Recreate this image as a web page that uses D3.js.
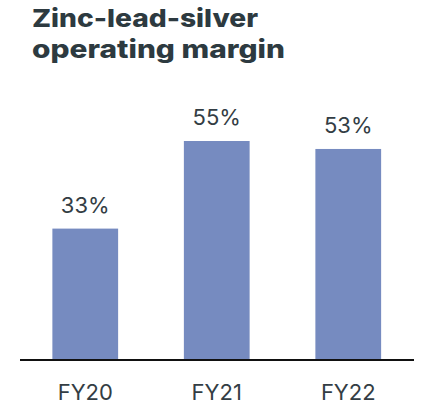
<!DOCTYPE html>
<html><head><meta charset="utf-8">
<script src="https://cdn.jsdelivr.net/npm/d3@7"></script>
<style>body{margin:0;background:#fff;}svg{display:block;}</style>
</head><body>
<script>
const categories = ["FY20", "FY21", "FY22"];
const values = [33, 55, 53];
const valueLabels = ["33%", "55%", "53%"];
const titleLines = ["Zinc-lead-silver", "operating margin"];
const titleWidths = [226, 253];

const W = 423, H = 411;
const svg = d3.select("body").append("svg").attr("width", W).attr("height", H);
const textColor = "#333d44";

svg.selectAll("text.title").data(titleLines).join("text")
  .attr("class", "title")
  .attr("x", 32).attr("y", (d, i) => 27 + i * 31)
  .attr("font-family", "Inter, sans-serif").attr("font-weight", 800)
  .attr("font-size", 25).attr("fill", "#2d3a40")
  .attr("textLength", (d, i) => titleWidths[i])
  .attr("lengthAdjust", "spacingAndGlyphs")
  .text(d => d);

const x = d3.scaleBand().domain(categories).range([19.5, 414]).paddingInner(0.5).paddingOuter(0.25);
const y = d3.scaleLinear().domain([0, 55]).range([360, 141]);

svg.selectAll("rect.bar").data(values).join("rect")
  .attr("class", "bar")
  .attr("x", (d, i) => x(categories[i]))
  .attr("width", x.bandwidth())
  .attr("y", d => y(d))
  .attr("height", d => y(0) - y(d))
  .attr("fill", "#768bc0");

svg.selectAll("text.val").data(values).join("text")
  .attr("class", "val")
  .attr("x", (d, i) => x(categories[i]) + x.bandwidth() / 2)
  .attr("y", d => y(d) - 16)
  .attr("text-anchor", "middle")
  .attr("font-family", "Inter, sans-serif").attr("font-size", 22)
  .attr("fill", textColor)
  .text((d, i) => valueLabels[i]);

const axis = d3.axisBottom(x).tickSize(0).tickPadding(0);
const g = svg.append("g").attr("transform", `translate(0,${y(0)})`).call(axis);
g.select(".domain").attr("stroke", "#111").attr("stroke-width", 2).attr("d", "M20,0H414");
g.selectAll(".tick text")
  .attr("y", 40).attr("dy", 0)
  .attr("font-family", "Inter, sans-serif").attr("font-size", 22)
  .attr("fill", textColor);
</script>
</body></html>
